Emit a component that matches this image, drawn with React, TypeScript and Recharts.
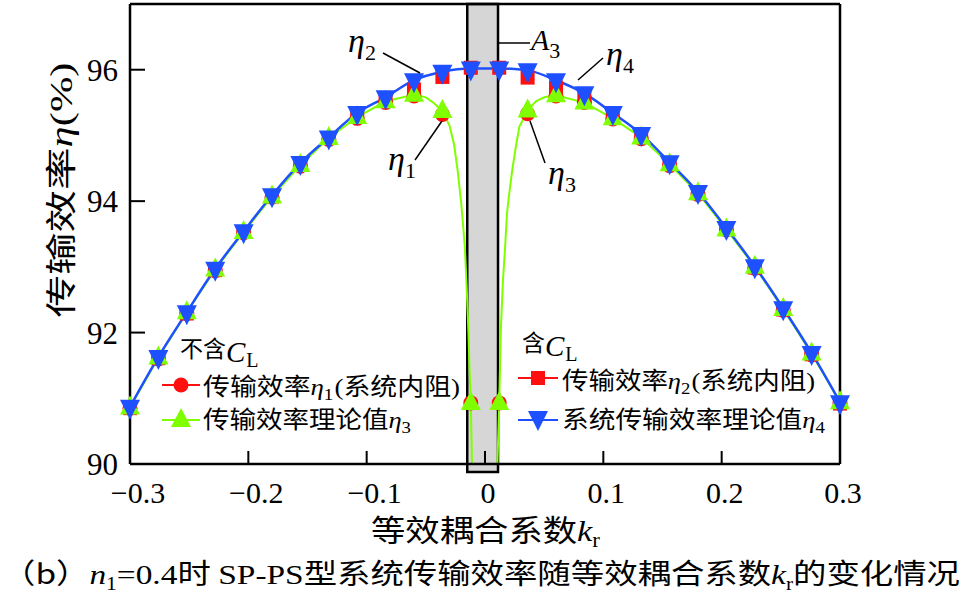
import React from 'react';
import { ComposedChart, Line, Scatter, XAxis, YAxis, ReferenceArea, ReferenceLine } from 'recharts';

// sample positions of k_r
const KR = [
  -0.3, -0.276, -0.252, -0.228, -0.204, -0.18, -0.156, -0.132, -0.108, -0.084, -0.06, -0.036, -0.012,
  0.012, 0.036, 0.06, 0.084, 0.108, 0.132, 0.156, 0.18, 0.204, 0.228, 0.252, 0.276, 0.3,
];

// eta1: measured, without C_L (red circles)
const ETA1 = [
  90.85, 91.6, 92.29, 92.94, 93.52, 94.06, 94.53, 94.94, 95.26, 95.5, 95.6, 95.32, 90.93,
  90.93, 95.33, 95.6, 95.5, 95.25, 94.95, 94.54, 94.1, 93.56, 92.98, 92.34, 91.66, 90.92,
];

// eta2: measured, with C_L (red squares)
const ETA2 = [
  90.85, 91.61, 92.29, 92.95, 93.53, 94.07, 94.56, 94.96, 95.31, 95.55, 95.7, 95.89, 96.03,
  96.03, 95.88, 95.73, 95.58, 95.31, 94.99, 94.57, 94.12, 93.58, 92.99, 92.35, 91.67, 90.92,
];

// eta3: theory, without C_L (green triangles)
const ETA3 = [
  90.86, 91.62, 92.31, 92.96, 93.53, 94.07, 94.55, 94.96, 95.28, 95.52, 95.62, 95.37, 90.93,
  90.93, 95.38, 95.61, 95.5, 95.26, 94.97, 94.56, 94.12, 93.57, 93.0, 92.36, 91.68, 90.94,
];

// eta3 theory curve; two branches that fall to 90 near k_r = 0
const ETA3_LEFT_X = [
  -0.3, -0.276, -0.252, -0.228, -0.204, -0.18, -0.156, -0.132, -0.108, -0.084, -0.06, -0.05, -0.043,
  -0.036, -0.03, -0.026, -0.023, -0.02, -0.017, -0.0155, -0.014, -0.013, -0.012, -0.011,
];
const ETA3_LEFT_Y = [
  90.86, 91.62, 92.31, 92.96, 93.53, 94.07, 94.55, 94.96, 95.28, 95.52, 95.62, 95.58, 95.49,
  95.37, 95.15, 94.85, 94.45, 93.95, 93.3, 92.7, 92.0, 91.4, 90.93, 90.0,
];
const ETA3_RIGHT_X = [
  0.0105, 0.012, 0.0135, 0.0152, 0.017, 0.0186, 0.0205, 0.023, 0.026, 0.029, 0.036, 0.043,
  0.05, 0.06, 0.084, 0.108, 0.132, 0.156, 0.18, 0.204, 0.228, 0.252, 0.276, 0.3,
];
const ETA3_RIGHT_Y = [
  90.0, 90.93, 92.1, 92.8, 93.3, 93.82, 94.12, 94.47, 94.82, 95.13, 95.38, 95.52,
  95.58, 95.61, 95.5, 95.26, 94.97, 94.56, 94.12, 93.57, 93.0, 92.36, 91.68, 90.94,
];

// eta4: theory, with C_L (blue inverted triangles)
const ETA4 = [
  90.87, 91.63, 92.31, 92.97, 93.54, 94.09, 94.58, 94.97, 95.34, 95.58, 95.84, 95.97, 96.02,
  96.02, 95.99, 95.84, 95.64, 95.34, 95.02, 94.59, 94.14, 93.59, 93.01, 92.37, 91.69, 90.94,
];

const X_TICKS = [-0.3, -0.2, -0.1, 0, 0.1, 0.2, 0.3];
const Y_TICKS = [90, 92, 94, 96];
const BAND = [-0.015, 0.011]; // A3 region

const RED = '#ff0f0f';
const GREEN = '#7fff00';
const BLUE = '#1e50ff';
const SERIF = '"Liberation Serif", "Times New Roman", serif';
const CJK = '"Noto Sans CJK SC", sans-serif';

const PLOT_LEFT = 130;
const PLOT_BOTTOM = 464;

const toPoints = (xs: number[], ys: number[]) => xs.map((x, i) => ({ x, y: ys[i] }));

const circle = (cx: number, cy: number) => <circle cx={cx} cy={cy} r={7.5} fill={RED} />;
const square = (cx: number, cy: number) => <rect x={cx - 7} y={cy - 7} width={14} height={14} fill={RED} />;
const upTri = (cx: number, cy: number) => (
  <polygon points={`${cx},${cy - 12} ${cx - 10},${cy + 7} ${cx + 10},${cy + 7}`} fill={GREEN} />
);
const downTri = (cx: number, cy: number) => (
  <polygon points={`${cx - 10},${cy - 7} ${cx + 10},${cy - 7} ${cx},${cy + 13}`} fill={BLUE} />
);

const fmt = (v: number) => (v === 0 ? '0' : v < 0 ? '\u2212' + Math.abs(v).toFixed(1) : v.toFixed(1));

const XTick = (props: any) => {
  const { x, payload } = props;
  const v = payload.value as number;
  return (
    <g>
      <line x1={x} y1={PLOT_BOTTOM} x2={x} y2={PLOT_BOTTOM - 13} stroke="#000" strokeWidth={2} />
      <text x={x + (v < 0 ? 8 : 3)} y={503} textAnchor="middle" fontFamily={SERIF} fontSize={30} fill="#000">
        {fmt(v)}
      </text>
    </g>
  );
};

const YTick = (props: any) => {
  const { y, payload } = props;
  return (
    <g>
      <line x1={PLOT_LEFT} y1={y} x2={PLOT_LEFT + 15} y2={y} stroke="#000" strokeWidth={2} />
      <text x={118} y={y + 11} textAnchor="end" fontFamily={SERIF} fontSize={31} fill="#000">
        {payload.value}
      </text>
    </g>
  );
};

const Eta = ({ x, y, sub }: { x: number; y: number; sub: string }) => (
  <text x={x} y={y} fontFamily={SERIF} fontSize={34} fill="#000">
    <tspan fontStyle="italic">η</tspan>
    <tspan fontSize={22} dy={8}>{sub}</tspan>
  </text>
);

const Overlay = () => (
  <svg width={965} height={601} style={{ position: 'absolute', left: 0, top: 0, pointerEvents: 'none' }}>
    {/* axis titles */}
    <text x={72} y={190} transform="rotate(-90 72 190)" textAnchor="middle" fontSize={31} fill="#000"
      textLength={255} lengthAdjust="spacingAndGlyphs">
      <tspan fontFamily={CJK}>传输效率</tspan>
      <tspan fontFamily={SERIF} fontStyle="italic">η</tspan>
      <tspan fontFamily={SERIF}>(%)</tspan>
    </text>
    <text x={371} y={541} fontSize={30} fill="#000" textLength={229} lengthAdjust="spacingAndGlyphs">
      <tspan fontFamily={CJK}>等效耦合系数</tspan>
      <tspan fontFamily={SERIF} fontStyle="italic">k</tspan>
      <tspan fontFamily={SERIF} fontSize={20} dy={6}>r</tspan>
    </text>
    <text x={2} y={584} fontSize={28} fill="#000" textLength={958} lengthAdjust="spacingAndGlyphs">
      <tspan fontFamily={CJK}>（b）</tspan>
      <tspan fontFamily={SERIF} fontStyle="italic">n</tspan>
      <tspan fontFamily={SERIF} fontSize={18} dy={6}>1</tspan>
      <tspan fontFamily={SERIF} dy={-6}>=0.4</tspan>
      <tspan fontFamily={CJK}>时 </tspan>
      <tspan fontFamily={SERIF}>SP-PS</tspan>
      <tspan fontFamily={CJK}>型系统传输效率随等效耦合系数</tspan>
      <tspan fontFamily={SERIF} fontStyle="italic">k</tspan>
      <tspan fontFamily={SERIF} fontSize={18} dy={6}>r</tspan>
      <tspan fontFamily={CJK} dy={-6}>的变化情况</tspan>
    </text>

    {/* annotations */}
    <Eta x={348} y={52} sub="2" />
    <line x1={383} y1={53} x2={420} y2={73} stroke="#000" strokeWidth={1.5} />
    <text x={531} y={50} fontFamily={SERIF} fontSize={30} fill="#000">
      <tspan fontStyle="italic">A</tspan>
      <tspan fontSize={22} dy={8}>3</tspan>
    </text>
    <line x1={499} y1={43} x2={530} y2={43} stroke="#000" strokeWidth={1.5} />
    <Eta x={606} y={65} sub="4" />
    <line x1={578} y1={80} x2={603} y2={58} stroke="#000" strokeWidth={1.5} />
    <Eta x={388} y={170} sub="1" />
    <line x1={415} y1={160} x2={442} y2={121} stroke="#000" strokeWidth={1.5} />
    <Eta x={548} y={184} sub="3" />
    <line x1={530} y1={121} x2={545} y2={163} stroke="#000" strokeWidth={1.5} />

    {/* legend: without C_L */}
    <text x={180} y={357} fill="#000">
      <tspan fontFamily={CJK} fontSize={23}>不含</tspan>
      <tspan fontFamily={SERIF} fontSize={29} fontStyle="italic" dy={5}>C</tspan>
      <tspan fontFamily={SERIF} fontSize={20} dx={1} dy={5}>L</tspan>
    </text>
    <line x1={162} y1={385} x2={200} y2={385} stroke={RED} strokeWidth={2} />
    {circle(181, 385)}
    <text x={203} y={395} fontSize={24} fill="#000" textLength={257} lengthAdjust="spacingAndGlyphs">
      <tspan fontFamily={CJK}>传输效率</tspan>
      <tspan fontFamily={SERIF} fontStyle="italic">η</tspan>
      <tspan fontFamily={SERIF} fontSize={17} dy={5}>1</tspan>
      <tspan fontFamily={SERIF} dx={1} dy={-5}>(</tspan>
      <tspan fontFamily={CJK}>系统内阻</tspan>
      <tspan fontFamily={SERIF}>)</tspan>
    </text>
    <line x1={162} y1={420} x2={200} y2={420} stroke={GREEN} strokeWidth={2} />
    {upTri(181, 420)}
    <text x={203} y={428} fontSize={24} fill="#000" textLength={208} lengthAdjust="spacingAndGlyphs">
      <tspan fontFamily={CJK}>传输效率理论值</tspan>
      <tspan fontFamily={SERIF} fontStyle="italic">η</tspan>
      <tspan fontFamily={SERIF} fontSize={17} dy={5}>3</tspan>
    </text>

    {/* legend: with C_L */}
    <text x={522} y={351} fill="#000">
      <tspan fontFamily={CJK} fontSize={23}>含</tspan>
      <tspan fontFamily={SERIF} fontSize={29} fontStyle="italic" dy={5}>C</tspan>
      <tspan fontFamily={SERIF} fontSize={20} dx={1} dy={5}>L</tspan>
    </text>
    <line x1={518} y1={378} x2={558} y2={378} stroke={RED} strokeWidth={2} />
    {square(538, 378)}
    <text x={562} y={389} fontSize={24} fill="#000" textLength={253} lengthAdjust="spacingAndGlyphs">
      <tspan fontFamily={CJK}>传输效率</tspan>
      <tspan fontFamily={SERIF} fontStyle="italic">η</tspan>
      <tspan fontFamily={SERIF} fontSize={17} dy={5}>2</tspan>
      <tspan fontFamily={SERIF} dx={1} dy={-5}>(</tspan>
      <tspan fontFamily={CJK}>系统内阻</tspan>
      <tspan fontFamily={SERIF}>)</tspan>
    </text>
    <line x1={518} y1={420} x2={558} y2={420} stroke={BLUE} strokeWidth={2} />
    {downTri(538, 418)}
    <text x={562} y={428} fontSize={24} fill="#000" textLength={263} lengthAdjust="spacingAndGlyphs">
      <tspan fontFamily={CJK}>系统传输效率理论值</tspan>
      <tspan fontFamily={SERIF} fontStyle="italic">η</tspan>
      <tspan fontFamily={SERIF} fontSize={17} dy={5}>4</tspan>
    </text>
  </svg>
);

export default function App() {
  const eta1 = toPoints(KR, ETA1);
  const eta2 = toPoints(KR, ETA2);
  const eta3 = toPoints(KR, ETA3);
  const eta4 = toPoints(KR, ETA4);
  const eta3Left = toPoints(ETA3_LEFT_X, ETA3_LEFT_Y);
  const eta3Right = toPoints(ETA3_RIGHT_X, ETA3_RIGHT_Y);

  return (
    <div style={{ position: 'absolute', left: 0, top: 0, width: 965, height: 601, background: '#fff' }}>
      <ComposedChart width={965} height={601} margin={{ top: 4, right: 125, bottom: 107, left: 70 }}>
        <XAxis
          type="number"
          dataKey="x"
          domain={[-0.3, 0.3]}
          ticks={X_TICKS}
          height={30}
          tickSize={0}
          tickMargin={0}
          tickLine={false}
          tick={<XTick />}
          axisLine={{ stroke: '#000', strokeWidth: 2.5 }}
        />
        <YAxis
          type="number"
          dataKey="y"
          domain={[90, 97]}
          ticks={Y_TICKS}
          width={60}
          tickSize={0}
          tickMargin={0}
          tickLine={false}
          tick={<YTick />}
          axisLine={{ stroke: '#000', strokeWidth: 2.5 }}
        />
        <ReferenceArea
          x1={BAND[0]}
          x2={BAND[1]}
          y1={89.88}
          y2={97}
          ifOverflow="visible"
          fill="#d6d6d6"
          fillOpacity={1}
          stroke="#000"
          strokeWidth={2.5}
        />
        <ReferenceLine y={97} stroke="#000" strokeWidth={2.5} />
        <ReferenceLine x={0.3} stroke="#000" strokeWidth={2.5} />

        <Scatter data={eta1} fill={RED} isAnimationActive={false} shape={(p: any) => circle(p.cx, p.cy)} />
        <Scatter data={eta2} fill={RED} isAnimationActive={false} shape={(p: any) => square(p.cx, p.cy)} />
        <Line data={eta3Left} dataKey="y" type="linear" stroke={GREEN} strokeWidth={2} dot={false}
          isAnimationActive={false} />
        <Line data={eta3Right} dataKey="y" type="linear" stroke={GREEN} strokeWidth={2} dot={false}
          isAnimationActive={false} />
        <Scatter data={eta3} fill={GREEN} isAnimationActive={false} shape={(p: any) => upTri(p.cx, p.cy)} />
        <Line data={eta4} dataKey="y" type="monotone" stroke={BLUE} strokeWidth={2.5} dot={false}
          isAnimationActive={false} />
        <Scatter data={eta4} fill={BLUE} isAnimationActive={false} shape={(p: any) => downTri(p.cx, p.cy)} />
      </ComposedChart>
      <Overlay />
    </div>
  );
}
